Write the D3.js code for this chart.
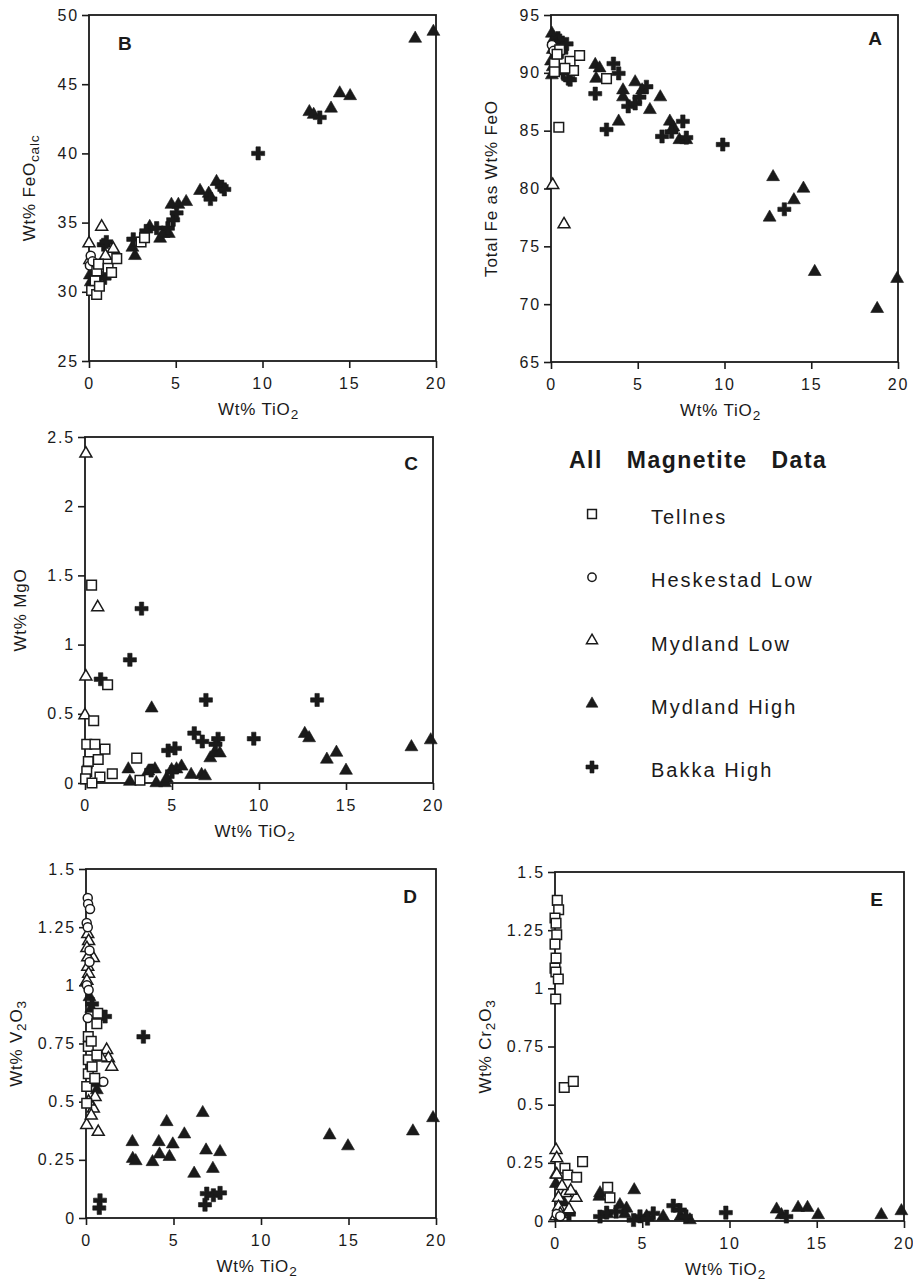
<!DOCTYPE html>
<html>
<head>
<meta charset="utf-8">
<script src="https://cdn.jsdelivr.net/npm/d3@7"></script>
<style>
  body { margin: 0; background: #fff; }
  svg { display: block; }
</style>
</head>
<body>
<svg id="fig" width="913" height="1281"></svg>
<script>
// ---- data: [Wt% TiO2, y value] ----

// Panel B: FeOcalc
const tellnesB = [[0.15,30.1],[0.44,29.8],[0.35,30.8],[0.6,30.4],[0.45,31.5],[0.55,32.0],[1.1,31.7],[1.3,31.4],[1.6,32.4],[3.0,33.6],[3.2,33.9]];
const heskestadB = [[0.1,32.6],[0.05,31.9],[0.2,32.2]];
const mydLowB = [[0.0,33.5],[0.73,34.7],[1.4,33.1],[0.05,32.3],[0.95,32.6]];
const mydHighB = [[0.05,31.2],[0.1,30.7],[2.5,33.2],[2.65,32.6],[3.5,34.7],[4.1,33.85],[4.3,34.2],[4.6,34.2],[4.75,36.3],[5.15,36.3],[5.6,36.5],[6.4,37.3],[6.9,37.1],[7.35,37.95],[12.7,43.0],[12.95,42.8],[13.95,43.25],[14.45,44.35],[15.05,44.15],[18.8,48.3],[19.85,48.8]];
const bakkaB = [[0.85,33.4],[1.0,33.6],[0.6,31.1],[0.9,31.0],[2.55,33.8],[3.3,34.4],[3.9,34.6],[4.55,34.6],[4.85,35.2],[5.05,35.7],[7.0,36.7],[7.65,37.6],[7.8,37.4],[9.75,40.0],[13.3,42.6]];

// Panel A: total Fe as FeO
const tellnesA = [[0.45,85.3],[0.5,92.0],[0.2,90.8],[0.2,90.1],[1.1,91.0],[1.3,90.2],[1.65,91.5],[0.8,90.4],[3.2,89.5],[0.35,91.6]];
const heskestadA = [[0.05,92.4],[0.15,91.9]];
const mydLowA = [[0.1,80.3],[0.75,76.9]];
const mydHighA = [[0.05,93.4],[0.15,92.9],[0.1,92.0],[0.0,91.0],[0.1,90.5],[0.05,89.8],[2.55,90.7],[2.8,90.4],[2.6,89.5],[3.9,85.8],[4.15,88.5],[4.15,87.9],[4.85,89.2],[5.25,88.5],[5.7,86.8],[6.3,87.9],[6.85,85.8],[7.05,85.3],[7.4,84.2],[7.8,84.2],[12.8,81.0],[12.6,77.5],[14.0,79.0],[14.55,80.0],[15.2,72.8],[18.8,69.6],[19.95,72.2]];
const bakkaA = [[0.4,93.0],[0.5,92.8],[0.9,92.5],[0.3,92.3],[0.6,91.8],[0.7,90.0],[1.0,89.5],[1.1,89.4],[2.55,88.2],[3.2,85.1],[3.6,90.8],[3.9,89.95],[4.45,87.1],[4.85,87.35],[5.1,87.9],[5.5,88.8],[6.4,84.5],[6.95,84.9],[7.6,85.8],[7.8,84.4],[9.9,83.8],[13.45,78.2]];

// Panel C: MgO
const tellnesC = [[0.38,1.43],[1.3,0.71],[0.5,0.45],[0.1,0.28],[0.57,0.28],[1.15,0.245],[0.19,0.155],[0.76,0.17],[0.1,0.084],[0.86,0.043],[1.57,0.067],[2.97,0.18],[3.16,0.02],[0.03,0.03],[0.4,0.0]];
const heskestadC = [[0.05,0.05],[0.15,0.12]];
const mydLowC = [[0.05,2.38],[0.05,0.77],[0.0,0.49],[0.73,1.27]];
const mydHighC = [[3.83,0.54],[2.49,0.1],[2.58,0.01],[3.64,0.085],[4.02,0.1],[4.1,0.0],[4.6,0.0],[4.7,0.035],[4.98,0.095],[5.26,0.1],[5.55,0.12],[6.1,0.06],[6.7,0.06],[6.9,0.05],[7.2,0.18],[7.45,0.22],[7.75,0.215],[12.63,0.356],[12.88,0.325],[13.9,0.17],[14.45,0.22],[15.0,0.09],[18.76,0.26],[19.87,0.31]];
const bakkaC = [[0.9,0.75],[2.58,0.89],[3.25,1.26],[6.95,0.6],[13.34,0.6],[9.7,0.32],[6.28,0.36],[6.74,0.3],[7.65,0.32],[4.78,0.235],[5.17,0.25],[7.5,0.28],[3.8,0.09],[5.0,0.08]];

// Panel D: V2O3
const tellnesD = [[0.67,0.88],[0.62,0.835],[0.13,0.78],[0.13,0.737],[0.13,0.68],[0.62,0.7],[0.13,0.62],[0.04,0.565],[0.04,0.493],[0.3,0.76],[0.35,0.65],[0.5,0.6]];
const heskestadD = [[0.1,1.375],[0.12,1.35],[0.23,1.328],[0.04,1.268],[0.1,1.25],[0.05,1.0],[0.15,0.98],[0.99,0.586],[0.1,0.86],[0.2,1.1],[0.2,1.15]];
const mydLowD = [[0.1,1.22],[0.15,1.19],[0.05,1.16],[0.42,1.117],[0.1,1.12],[0.1,1.08],[0.15,1.05],[0.05,1.02],[1.18,0.722],[1.28,0.686],[1.47,0.65],[0.86,0.69],[0.04,0.4],[0.7,0.37],[0.42,0.47],[0.52,0.52],[0.3,0.44],[0.15,0.5]];
const mydHighD = [[2.65,0.327],[2.67,0.255],[2.84,0.245],[3.8,0.241],[4.16,0.327],[4.2,0.274],[4.61,0.413],[4.77,0.263],[4.96,0.317],[5.62,0.36],[6.18,0.191],[6.67,0.452],[6.86,0.291],[7.25,0.212],[7.66,0.284],[13.92,0.356],[14.97,0.309],[18.68,0.373],[19.83,0.43],[0.2,0.95],[0.3,0.9],[0.52,0.58],[0.62,0.55]];
const bakkaD = [[3.28,0.779],[6.8,0.057],[6.9,0.105],[7.28,0.098],[7.66,0.108],[0.8,0.076],[0.76,0.043],[0.65,0.858],[1.09,0.866],[0.35,0.92]];

// Panel E: Cr2O3
const tellnesE = [[0.13,1.378],[0.21,1.338],[0.0,1.302],[0.06,1.28],[0.1,1.23],[0.0,1.19],[0.06,1.13],[0.0,1.087],[0.05,1.07],[0.19,1.04],[0.04,0.954],[0.53,0.574],[1.05,0.6],[1.58,0.255],[0.57,0.227],[0.73,0.198],[1.24,0.188],[3.02,0.145],[3.15,0.1]];
const heskestadE = [[0.1,0.03],[0.3,0.02]];
const mydLowE = [[0.06,0.305],[0.1,0.27],[0.1,0.2],[0.6,0.12],[1.2,0.1],[0.2,0.1],[0.2,0.06],[0.8,0.05],[0.05,0.02],[0.9,0.13],[0.4,0.15],[0.3,0.03]];
const mydHighE = [[0.05,0.2],[0.05,0.16],[2.54,0.105],[2.58,0.12],[4.54,0.133],[3.72,0.069],[4.1,0.054],[5.25,0.02],[6.2,0.019],[7.73,0.004],[12.7,0.05],[12.98,0.026],[13.93,0.057],[14.47,0.057],[15.08,0.026],[18.7,0.026],[19.85,0.043],[3.0,0.03],[4.0,0.03],[7.2,0.02],[0.5,0.08]];
const bakkaE = [[9.79,0.036],[6.78,0.066],[7.16,0.047],[4.87,0.02],[4.5,0.004],[5.63,0.033],[2.58,0.019],[2.96,0.036],[13.26,0.019],[5.3,0.01],[7.5,0.02],[0.8,0.03],[3.5,0.04]];

// ticks
const xTicks = [0, 5, 10, 15, 20];
const feoTicks = [25, 30, 35, 40, 45, 50];
const totalFeTicks = [65, 70, 75, 80, 85, 90, 95];
const mgoTicks = [0, 0.5, 1, 1.5, 2, 2.5];
const quarterTicks = [0, 0.25, 0.5, 0.75, 1, 1.25, 1.5];

// legend
const seriesNames = ['Tellnes', 'Heskestad Low', 'Mydland Low', 'Mydland High', 'Bakka High'];
const legendTitle = 'All Magnetite Data';

// ---- drawing ----
const FONT = '"Liberation Sans", Arial, Helvetica, sans-serif';
const INK = '#1a1a1a';
const svg = d3.select('#fig');

// marker look per series (same order as seriesNames)
const markers = [
  { type: d3.symbolSquare,   size: 92, filled: false },
  { type: d3.symbolCircle,   size: 64, filled: false },
  { type: d3.symbolTriangle, size: 62, filled: false },
  { type: d3.symbolTriangle, size: 72, filled: true },
  { type: d3.symbolCross,    size: 95, filled: true }
];

function drawMarkers(g, pts, i, xs, ys) {
  const m = markers[i];
  g.selectAll(null)
    .data(pts)
    .join('path')
    .attr('transform', d => `translate(${xs(d[0])},${ys(d[1])})`)
    .attr('d', d3.symbol().type(m.type).size(m.size))
    .attr('fill', m.filled ? INK : '#fff')
    .attr('stroke', INK)
    .attr('stroke-width', m.filled ? 0.6 : 1.5);
}

// y title pieces: [text, isSub]
const panels = [
  { left: 89, right: 436, top: 15, bottom: 361, yDomain: [25, 50], yTicks: feoTicks,
    series: [mydHighB, bakkaB, mydLowB, heskestadB, tellnesB],
    yTitle: [['Wt% FeO', false], ['calc', true]], yTitleOff: 54,
    letter: 'B', lx: 118, ly: 50, lanchor: 'start' },
  { left: 551, right: 898, top: 15, bottom: 362, yDomain: [65, 95], yTicks: totalFeTicks,
    series: [mydHighA, bakkaA, mydLowA, heskestadA, tellnesA],
    yTitle: [['Total Fe as Wt% FeO', false]], yTitleOff: 54,
    letter: 'A', lx: 882, ly: 45, lanchor: 'end' },
  { left: 85, right: 433, top: 437, bottom: 783, yDomain: [0, 2.5], yTicks: mgoTicks,
    series: [mydHighC, bakkaC, mydLowC, heskestadC, tellnesC],
    yTitle: [['Wt% MgO', false]], yTitleOff: 59,
    letter: 'C', lx: 418, ly: 470, lanchor: 'end' },
  { left: 86, right: 436, top: 869, bottom: 1218, yDomain: [0, 1.5], yTicks: quarterTicks,
    series: [mydHighD, bakkaD, mydLowD, heskestadD, tellnesD],
    yTitle: [['Wt% V', false], ['2', true], ['O', false], ['3', true]], yTitleOff: 64,
    letter: 'D', lx: 417, ly: 903, lanchor: 'end' },
  { left: 555, right: 904, top: 872, bottom: 1221, yDomain: [0, 1.5], yTicks: quarterTicks,
    series: [mydHighE, bakkaE, mydLowE, heskestadE, tellnesE],
    yTitle: [['Wt% Cr', false], ['2', true], ['O', false], ['3', true]], yTitleOff: 64,
    letter: 'E', lx: 883, ly: 906, lanchor: 'end' }
];
// p.series lists [mydHigh, bakka, mydLow, heskestad, tellnes]: filled first, open on top
const drawOrder = [3, 4, 2, 1, 0];

function addRich(textSel, pieces) {
  pieces.forEach(([t, sub]) => {
    textSel.append('tspan')
      .attr('baseline-shift', sub ? '-25%' : null)
      .attr('font-size', sub ? '80%' : null)
      .text(t);
  });
}

function styleAxis(g) {
  g.attr('font-family', FONT).attr('font-size', 16).attr('color', INK);
  g.selectAll('text').attr('letter-spacing', '1.8px');
  g.selectAll('line').attr('stroke-width', 1.6);
  g.select('.domain').remove();
}

panels.forEach(p => {
  const x = d3.scaleLinear().domain([0, 20]).range([p.left, p.right]);
  const y = d3.scaleLinear().domain(p.yDomain).range([p.bottom, p.top]);
  const g = svg.append('g');

  g.append('g')
    .attr('transform', `translate(0,${p.bottom})`)
    .call(d3.axisBottom(x).tickValues(xTicks).tickSize(7).tickSizeOuter(0).tickPadding(10))
    .call(styleAxis);

  g.append('g')
    .attr('transform', `translate(${p.left},0)`)
    .call(d3.axisLeft(y).tickValues(p.yTicks).tickSize(7).tickSizeOuter(0).tickPadding(3)
      .tickFormat(d => String(d)))
    .call(styleAxis);

  g.append('rect')
    .attr('x', p.left).attr('y', p.top)
    .attr('width', p.right - p.left).attr('height', p.bottom - p.top)
    .attr('fill', 'none').attr('stroke', INK).attr('stroke-width', 1.8);

  // x title
  const xt = g.append('text')
    .attr('x', (p.left + p.right) / 2 - 4).attr('y', p.bottom + 54)
    .attr('text-anchor', 'middle')
    .attr('font-family', FONT).attr('font-size', 17).attr('letter-spacing', '0.8px')
    .attr('fill', INK);
  addRich(xt, [['Wt% TiO', false], ['2', true]]);

  // y title
  const yt = g.append('text')
    .attr('transform', `translate(${p.left - p.yTitleOff},${(p.top + p.bottom) / 2}) rotate(-90)`)
    .attr('text-anchor', 'middle')
    .attr('font-family', FONT).attr('font-size', 17).attr('letter-spacing', '0.8px')
    .attr('fill', INK);
  addRich(yt, p.yTitle);

  // panel letter
  g.append('text')
    .attr('x', p.lx).attr('y', p.ly)
    .attr('text-anchor', p.lanchor)
    .attr('font-family', FONT).attr('font-size', 19).attr('font-weight', 'bold')
    .attr('fill', INK)
    .text(p.letter);

  p.series.forEach((pts, k) => drawMarkers(g, pts, drawOrder[k], x, y));
});

// legend
const leg = svg.append('g');
leg.append('text')
  .attr('x', 569).attr('y', 468)
  .attr('font-family', FONT).attr('font-size', 23).attr('font-weight', 'bold')
  .attr('letter-spacing', '1.5px').attr('word-spacing', '16px')
  .attr('fill', INK)
  .text(legendTitle);

const legendY = d3.scalePoint().domain(seriesNames).range([514, 767]);
seriesNames.forEach((name, i) => {
  const cy = legendY(name);
  const m = markers[i];
  leg.append('path')
    .attr('transform', `translate(592,${cy})`)
    .attr('d', d3.symbol().type(m.type).size(m.size * 0.85))
    .attr('fill', m.filled ? INK : '#fff')
    .attr('stroke', INK)
    .attr('stroke-width', m.filled ? 0.6 : 1.5);
  leg.append('text')
    .attr('x', 651).attr('y', cy + 10)
    .attr('font-family', FONT).attr('font-size', 20).attr('letter-spacing', '2px')
    .attr('fill', INK)
    .text(name);
});
</script>
</body>
</html>
